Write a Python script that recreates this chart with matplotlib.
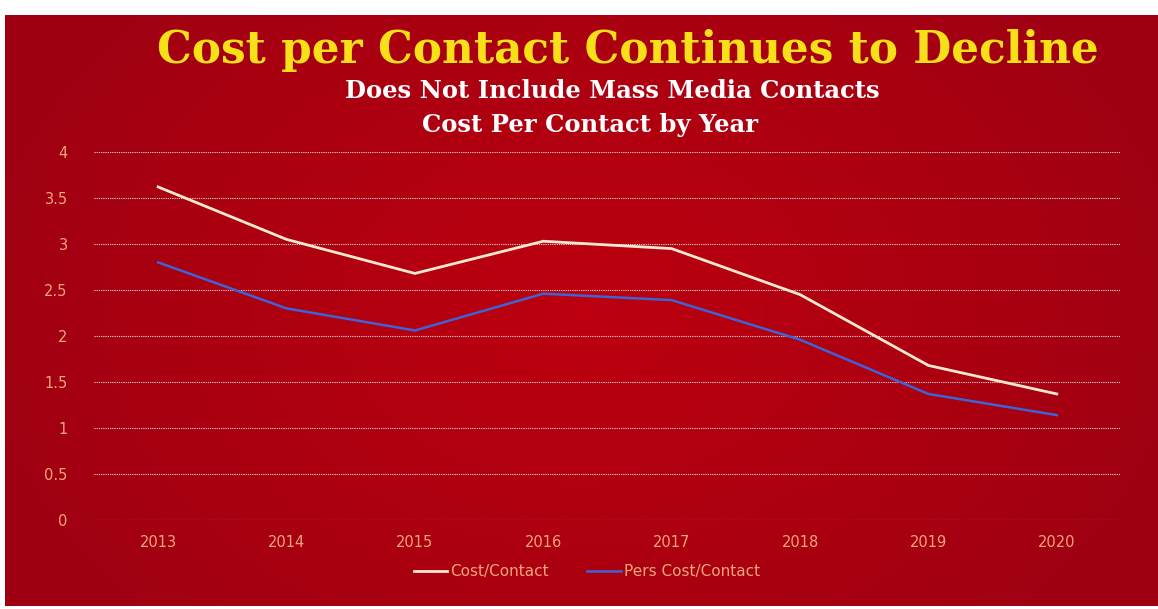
"""
Cost per contact by year - slide style line chart (red background)
"""

import matplotlib.pyplot as plt
import numpy as np

# Data
years = ['2013', '2014', '2015', '2016', '2017', '2018', '2019', '2020']
cost_contact = [3.62, 3.05, 2.68, 3.03, 2.95, 2.45, 1.68, 1.37]
pers_cost_contact = [2.80, 2.30, 2.06, 2.46, 2.39, 1.96, 1.37, 1.14]
y_ticks = [0, 0.5, 1, 1.5, 2, 2.5, 3, 3.5, 4]
y_tick_labels = ['0', '0.5', '1', '1.5', '2', '2.5', '3', '3.5', '4']

# Colours
title_yellow = '#F7E017'
label_orange = '#F2A57A'
cost_color = '#F6E8CF'
pers_color = '#3F63D6'

W, H = 1158, 609
fig = plt.figure(figsize=(W / 100, H / 100), dpi=100, facecolor='white')

# Slide background with a soft radial gradient
bg = fig.add_axes([0, 0, 1, 1])
bg.set_xlim(0, W)
bg.set_ylim(H, 0)
bg.axis('off')
gx = np.linspace(-1, 1, 300)
gy = np.linspace(-1, 1, 160)
GX, GY = np.meshgrid(gx, gy)
r = np.clip(np.sqrt(GX ** 2 * 0.8 + GY ** 2 * 0.4), 0, 1)
c0 = np.array([0.74, 0.0, 0.06])
c1 = np.array([0.62, 0.0, 0.07])
img = c0[None, None, :] * (1 - r[..., None]) + c1[None, None, :] * r[..., None]
bg.imshow(img, extent=[5, W, 606, 15], aspect='auto', interpolation='bilinear')

# Titles
fig.text(628 / W, 1 - 50 / H, 'Cost per Contact Continues to Decline',
         ha='center', va='center', fontsize=31.5, fontweight='bold',
         color=title_yellow, family='DejaVu Serif')
fig.text(612 / W, 1 - 91 / H, 'Does Not Include Mass Media Contacts',
         ha='center', va='center', fontsize=17.5, fontweight='bold',
         color='white', family='DejaVu Serif')
fig.text(590 / W, 1 - 125 / H, 'Cost Per Contact by Year',
         ha='center', va='center', fontsize=17.5, fontweight='bold',
         color='white', family='DejaVu Serif')

# Plot area
left, right, top, bottom = 94, 1121, 152, 520
ax = fig.add_axes([left / W, 1 - bottom / H, (right - left) / W, (bottom - top) / H])
ax.set_facecolor('none')
x = np.arange(len(years))
ax.plot(x, cost_contact, color=cost_color, lw=2, label='Cost/Contact')
ax.plot(x, pers_cost_contact, color=pers_color, lw=1.8, label='Pers Cost/Contact')

ax.set_xlim(-0.5, len(years) - 0.5)
ax.set_ylim(0, 4)
ax.set_yticks(y_ticks)
ax.set_yticklabels(y_tick_labels)
ax.set_xticks(x)
ax.set_xticklabels(years)
ax.grid(axis='y', color='white', lw=0.8, linestyle=(0, (1, 1)), alpha=0.85)
ax.set_axisbelow(True)
for s in ax.spines.values():
    s.set_visible(False)
ax.tick_params(length=0, colors=label_orange, labelsize=10.5)
ax.tick_params(axis='y', pad=19)
ax.tick_params(axis='x', pad=11)
for t in ax.get_xticklabels() + ax.get_yticklabels():
    t.set_family('DejaVu Sans')

leg = ax.legend(loc='upper center', bbox_to_anchor=(0.48, -0.083), ncol=2,
                frameon=False, fontsize=11, handlelength=2.2, handletextpad=0.2,
                columnspacing=2.5)
for t in leg.get_texts():
    t.set_color(label_orange)
    t.set_family('DejaVu Sans')

plt.savefig('out.png', dpi=100, facecolor='white')
plt.close()
